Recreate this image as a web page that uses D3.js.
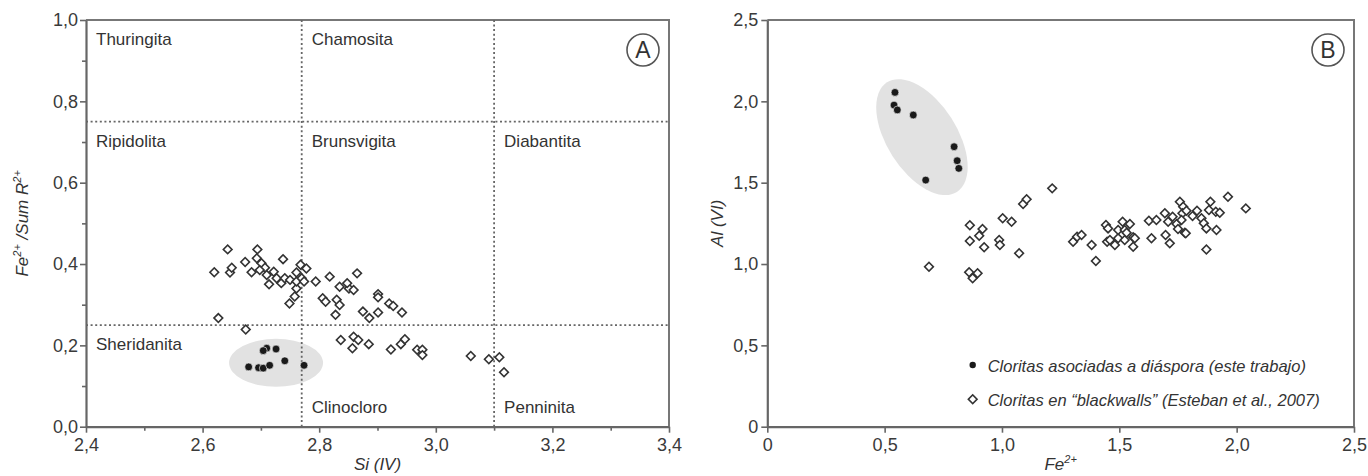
<!DOCTYPE html>
<html>
<head>
<meta charset="utf-8">
<script src="https://cdn.jsdelivr.net/npm/d3@7"></script>
<style>
  body { margin: 0; background: #fff; }
  svg { display: block; font-family: "Liberation Sans", Arial, sans-serif; }
</style>
</head>
<body>
<div id="chart"></div>
<script>
// Panel A: Si(IV) vs Fe2+/Sum R2+
const diasporaA = [
    [2.679, 0.147], [2.696, 0.145], [2.704, 0.144], [2.715, 0.151], [2.710, 0.193],
    [2.704, 0.187], [2.726, 0.191], [2.741, 0.162], [2.774, 0.151]
];
const blackwallsA = [
    [2.620, 0.380], [2.643, 0.436], [2.647, 0.379], [2.650, 0.391], [2.627, 0.267],
    [2.673, 0.405], [2.684, 0.380], [2.674, 0.239], [2.694, 0.436], [2.693, 0.414],
    [2.701, 0.402], [2.707, 0.391], [2.698, 0.385], [2.710, 0.373], [2.714, 0.350],
    [2.722, 0.381], [2.727, 0.365], [2.738, 0.412], [2.735, 0.353], [2.741, 0.365],
    [2.749, 0.303], [2.750, 0.361], [2.758, 0.320], [2.761, 0.340], [2.761, 0.379],
    [2.761, 0.357], [2.768, 0.398], [2.770, 0.365], [2.774, 0.357], [2.778, 0.389],
    [2.794, 0.357], [2.806, 0.316], [2.811, 0.307], [2.818, 0.369], [2.828, 0.275],
    [2.830, 0.312], [2.835, 0.299], [2.835, 0.344], [2.837, 0.213], [2.859, 0.221],
    [2.857, 0.193], [2.851, 0.340], [2.859, 0.336], [2.865, 0.377], [2.848, 0.353],
    [2.901, 0.326], [2.901, 0.318], [2.920, 0.303], [2.927, 0.297], [2.875, 0.283],
    [2.886, 0.267], [2.901, 0.281], [2.942, 0.281], [2.867, 0.213], [2.885, 0.203],
    [2.923, 0.190], [2.940, 0.203], [2.947, 0.215], [2.968, 0.189], [2.977, 0.189],
    [2.977, 0.176], [3.060, 0.174], [3.091, 0.166], [3.109, 0.171], [3.117, 0.134]
];
const xTicksA = [2.4, 2.6, 2.8, 3.0, 3.2, 3.4];
const xLabelsA = ["2,4", "2,6", "2,8", "3,0", "3,2", "3,4"];
const xMinorA = [2.5, 2.7, 2.9, 3.1, 3.3];
const yTicksA = [0, 0.2, 0.4, 0.6, 0.8, 1.0];
const yLabelsA = ["0,0", "0,2", "0,4", "0,6", "0,8", "1,0"];
const yMinorA = [0.1, 0.3, 0.5, 0.7, 0.9];
const siLimits = [2.77, 3.1];
const feLimits = [0.25, 0.75];
// fields: column 0..2 (by Si limits), row 0..2 from top (by Fe limits)
const fieldNames = [
    { name: "Thuringita", col: 0, row: 0, at: "top" },
    { name: "Chamosita", col: 1, row: 0, at: "top" },
    { name: "Ripidolita", col: 0, row: 1, at: "top" },
    { name: "Brunsvigita", col: 1, row: 1, at: "top" },
    { name: "Diabantita", col: 2, row: 1, at: "top" },
    { name: "Sheridanita", col: 0, row: 2, at: "top" },
    { name: "Clinocloro", col: 1, row: 2, at: "bottom" },
    { name: "Penninita", col: 2, row: 2, at: "bottom" }
];

// Panel B: Fe2+ vs Al(VI)
const diasporaB = [
    [0.544, 2.055], [0.540, 1.977], [0.554, 1.947], [0.622, 1.916],
    [0.796, 1.721], [0.809, 1.635], [0.816, 1.588], [0.675, 1.516]
];
const blackwallsB = [
    [0.689, 0.983], [0.860, 0.949], [0.875, 0.912], [0.896, 0.943], [0.863, 1.141],
    [0.903, 1.174], [0.917, 1.215], [0.863, 1.238], [0.924, 1.103], [0.988, 1.148],
    [0.991, 1.117], [1.073, 1.066], [1.003, 1.281], [1.041, 1.260], [1.090, 1.369],
    [1.105, 1.398], [1.214, 1.465],
    [1.303, 1.137], [1.320, 1.168], [1.339, 1.178], [1.382, 1.117], [1.400, 1.018],
    [1.443, 1.240], [1.452, 1.219], [1.448, 1.137], [1.460, 1.148], [1.481, 1.117],
    [1.495, 1.158], [1.495, 1.209], [1.514, 1.260], [1.545, 1.246], [1.523, 1.209],
    [1.523, 1.148], [1.531, 1.192], [1.559, 1.164], [1.559, 1.106], [1.566, 1.158],
    [1.626, 1.266], [1.637, 1.158], [1.658, 1.270], [1.694, 1.312], [1.697, 1.178],
    [1.708, 1.260], [1.715, 1.127], [1.727, 1.291], [1.744, 1.246], [1.750, 1.215],
    [1.758, 1.383], [1.772, 1.352], [1.769, 1.312], [1.786, 1.328], [1.765, 1.270],
    [1.779, 1.192], [1.812, 1.295], [1.831, 1.328], [1.850, 1.281], [1.860, 1.250],
    [1.871, 1.219], [1.888, 1.383], [1.882, 1.332], [1.911, 1.321], [1.928, 1.315],
    [1.914, 1.209], [1.963, 1.414], [2.039, 1.342], [1.871, 1.089], [1.783, 1.189]
];
const xTicksB = [0, 0.5, 1.0, 1.5, 2.0, 2.5];
const xLabelsB = ["0", "0,5", "1,0", "1,5", "2,0", "2,5"];
const yTicksB = [0, 0.5, 1.0, 1.5, 2.0, 2.5];
const yLabelsB = ["0", "0,5", "1,0", "1,5", "2,0", "2,5"];
const legendLabels = [
    "Cloritas asociadas a diáspora (este trabajo)",
    "Cloritas en \u201Cblackwalls\u201D (Esteban et al., 2007)"
];

const width = 1368;
const height = 476;
const axisColor = "#666";
const textColor = "#3a3a3a";

const svg = d3.select("#chart")
    .append("svg")
    .attr("width", width)
    .attr("height", height);

const xA = d3.scaleLinear().domain([2.4, 3.4]).range([86, 669]);
const yA = d3.scaleLinear().domain([0, 1]).range([426.7, 20]);
const xB = d3.scaleLinear().domain([0, 2.5]).range([767.3, 1354]);
const yB = d3.scaleLinear().domain([0, 2.5]).range([426.7, 20]);

const diamond = d3.symbol().type(d3.symbolSquare).size(38);

function drawFrame(x, y) {
    const [x0, x1] = x.range();
    const [y0, y1] = y.range();
    svg.append("path")
        .attr("d", `M${x0},${y1}H${x1}V${y0}`)
        .attr("fill", "none")
        .attr("stroke", "#777")
        .attr("stroke-width", 2);
}

function drawAxes(x, y, xt, xl, yt, yl, xm, ym, yPad) {
    const gx = svg.append("g")
        .attr("transform", `translate(0,${y.range()[0]})`)
        .call(d3.axisBottom(x).tickValues(xt).tickFormat((d, i) => xl[i]).tickSize(6).tickPadding(6).tickSizeOuter(0));
    const gy = svg.append("g")
        .attr("transform", `translate(${x.range()[0]},0)`)
        .call(d3.axisLeft(y).tickValues(yt).tickFormat((d, i) => yl[i]).tickSize(6).tickPadding(yPad).tickSizeOuter(0));
    [gx, gy].forEach(g => {
        g.select(".domain").attr("stroke", axisColor).attr("stroke-width", 2.2);
        g.selectAll(".tick line").attr("stroke", axisColor).attr("stroke-width", 1.6);
        g.selectAll(".tick text").attr("fill", textColor).style("font-size", "18px")
            .style("font-family", "'Liberation Sans', Arial, sans-serif");
    });
    if (xm) {
        svg.append("g")
            .attr("transform", `translate(0,${y.range()[0]})`)
            .call(d3.axisBottom(x).tickValues(xm).tickFormat("").tickSize(4).tickSizeOuter(0))
            .call(g => g.select(".domain").remove())
            .selectAll("line").attr("stroke", axisColor).attr("stroke-width", 1.6);
    }
    if (ym) {
        svg.append("g")
            .attr("transform", `translate(${x.range()[0]},0)`)
            .call(d3.axisLeft(y).tickValues(ym).tickFormat("").tickSize(4).tickSizeOuter(0))
            .call(g => g.select(".domain").remove())
            .selectAll("line").attr("stroke", axisColor).attr("stroke-width", 1.6);
    }
}

function drawDiamonds(data, x, y) {
    svg.append("g").selectAll("path")
        .data(data)
        .enter()
        .append("path")
        .attr("d", diamond)
        .attr("transform", d => `translate(${x(d[0])},${y(d[1])}) rotate(45)`)
        .attr("fill", "#fff")
        .attr("stroke", "#333")
        .attr("stroke-width", 1.6);
}

function drawDots(data, x, y) {
    svg.append("g").selectAll("circle")
        .data(data)
        .enter()
        .append("circle")
        .attr("cx", d => x(d[0]))
        .attr("cy", d => y(d[1]))
        .attr("r", 3.9)
        .attr("fill", "#1a1a1a")
        .attr("stroke", "#fff")
        .attr("stroke-width", 0.6);
}

function panelTag(letter, x, y) {
    const cx = x.range()[1] - 26;
    const cy = y.range()[1] + 30;
    svg.append("circle")
        .attr("cx", cx).attr("cy", cy).attr("r", 16)
        .attr("fill", "none").attr("stroke", "#555").attr("stroke-width", 1.6);
    svg.append("text")
        .attr("x", cx).attr("y", cy + 8)
        .attr("text-anchor", "middle")
        .attr("fill", "#333")
        .style("font-size", "23px")
        .text(letter);
}

// ---------- Panel A ----------
drawFrame(xA, yA);

// gray field around the diaspora chlorites
svg.append("ellipse")
    .attr("cx", xA(2.726)).attr("cy", yA(0.157))
    .attr("rx", xA(2.726 + 0.0806) - xA(2.726))
    .attr("ry", yA(0.157) - yA(0.157 + 0.059))
    .attr("fill", "#e2e2e2");

siLimits.forEach(v => {
    svg.append("line")
        .attr("x1", xA(v)).attr("x2", xA(v))
        .attr("y1", yA(0)).attr("y2", yA(1))
        .attr("stroke", "#666").attr("stroke-width", 1.8).attr("stroke-dasharray", "2,2.6");
});
feLimits.forEach(v => {
    svg.append("line")
        .attr("x1", xA(2.4)).attr("x2", xA(3.4))
        .attr("y1", yA(v)).attr("y2", yA(v))
        .attr("stroke", "#666").attr("stroke-width", 1.8).attr("stroke-dasharray", "2,2.6");
});

const colEdges = [2.4, ...siLimits, 3.4];
const rowEdges = [1.0, ...feLimits.slice().reverse(), 0];
svg.append("g").selectAll("text")
    .data(fieldNames)
    .enter()
    .append("text")
    .attr("x", d => xA(colEdges[d.col]) + 10)
    .attr("y", d => d.at === "top" ? yA(rowEdges[d.row]) + 25 : yA(rowEdges[d.row + 1]) - 14)
    .attr("fill", "#333")
    .style("font-size", "17px")
    .text(d => d.name);

drawDiamonds(blackwallsA, xA, yA);
drawDots(diasporaA, xA, yA);
drawAxes(xA, yA, xTicksA, xLabelsA, yTicksA, yLabelsA, xMinorA, yMinorA, 2);
panelTag("A", xA, yA);

const yTitleA = svg.append("text")
    .attr("transform", `translate(28,${(yA(0) + yA(1)) / 2}) rotate(-90)`)
    .attr("text-anchor", "middle")
    .attr("fill", "#333")
    .style("font-size", "17px")
    .style("font-style", "italic");
yTitleA.append("tspan").text("Fe");
yTitleA.append("tspan").attr("dy", -7).style("font-size", "11px").text("2+");
yTitleA.append("tspan").attr("dy", 7).text(" /Sum R");
yTitleA.append("tspan").attr("dy", -7).style("font-size", "11px").text("2+");

svg.append("text")
    .attr("x", (xA(2.4) + xA(3.4)) / 2)
    .attr("y", 470)
    .attr("text-anchor", "middle")
    .attr("fill", "#333")
    .style("font-size", "17px")
    .style("font-style", "italic")
    .text("Si (IV)");

// ---------- Panel B ----------
drawFrame(xB, yB);

svg.append("ellipse")
    .attr("transform", `translate(${xB(0.659)},${yB(1.78)}) rotate(57.5)`)
    .attr("rx", 65).attr("ry", 35)
    .attr("fill", "#e2e2e2");

drawDiamonds(blackwallsB, xB, yB);
drawDots(diasporaB, xB, yB);
drawAxes(xB, yB, xTicksB, xLabelsB, yTicksB, yLabelsB, null, null, 3);
panelTag("B", xB, yB);

svg.append("text")
    .attr("transform", `translate(723,${(yB(0) + yB(2.5)) / 2}) rotate(-90)`)
    .attr("text-anchor", "middle")
    .attr("fill", "#333")
    .style("font-size", "17px")
    .style("font-style", "italic")
    .text("Al (VI)");

const xTitleB = svg.append("text")
    .attr("x", (xB(0) + xB(2.5)) / 2)
    .attr("y", 470)
    .attr("text-anchor", "middle")
    .attr("fill", "#333")
    .style("font-size", "17px")
    .style("font-style", "italic");
xTitleB.append("tspan").text("Fe");
xTitleB.append("tspan").attr("dy", -7).style("font-size", "11px").text("2+");

// legend
const legend = svg.append("g").attr("transform", "translate(972.7,365)");
legend.append("circle").attr("cx", 0).attr("cy", 0).attr("r", 3.2).attr("fill", "#1a1a1a");
legend.append("path").attr("d", diamond).attr("transform", "translate(0,34.3) rotate(45)")
    .attr("fill", "#fff").attr("stroke", "#333").attr("stroke-width", 1.6);
legend.selectAll("text")
    .data(legendLabels)
    .enter()
    .append("text")
    .attr("x", 15)
    .attr("y", (d, i) => 6.5 + i * 34.3)
    .attr("fill", "#333")
    .style("font-size", "16.5px")
    .style("font-style", "italic")
    .text(d => d);
</script>
</body>
</html>
